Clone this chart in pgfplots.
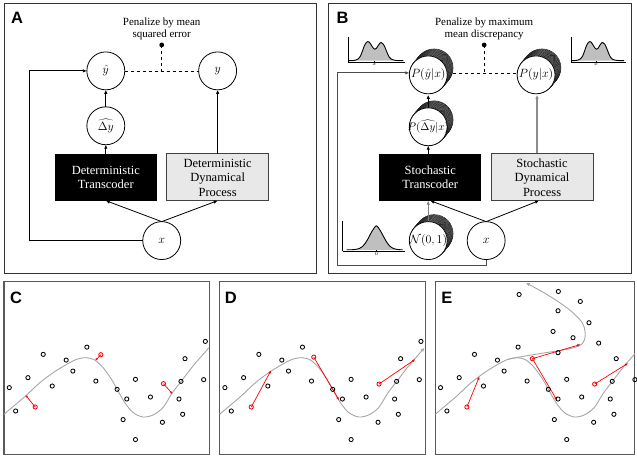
\documentclass[border=0pt]{standalone}
\usepackage{pgfplots}
\usepackage{pgfplotstable}
\pgfplotsset{compat=1.18}
\usepackage{fontspec}
\setmainfont{Liberation Serif}
\newfontfamily\labelfont{Liberation Sans}
\usetikzlibrary{arrows.meta}

% observed samples shared by the three scatter panels
\pgfplotstableread{
x y
5.3 66.7
11.7 43.3
24.0 76.7
39.3 100.0
48.3 68.3
62.3 94.3
69.0 83.3
83.0 107.3
92.0 73.3
113.3 65.0
123.0 55.3
131.7 75.0
119.3 34.7
131.7 14.7
146.7 57.3
158.7 32.0
175.3 55.3
177.3 73.0
181.3 95.7
179.0 40.0
200.0 74.7
201.7 113.0
}\basepts

% additional samples of the multimodal process
\pgfplotstableread{
x y
84.0 160.0
123.3 163.0
145.3 153.0
123.0 143.7
154.0 131.7
118.0 123.0
138.0 116.7
163.7 111.3
123.0 101.7
}\extrapts

% learned transcoder curve
\pgfplotstableread{
x y
0 40
11 49.3
22 58.7
36 71.7
49.3 81.7
62.7 90
72.7 95
82 96.7
91 94.3
99.3 86.7
107.7 75
114.3 63.3
121 51.7
129.3 41.7
139.3 37.3
149.3 39.3
159.3 46.7
168.3 61
177.7 73.3
189.3 88.3
205.3 106.7
}\curve

% upper branch of the stochastic transcoder
\pgfplotstableread{
x y
72.7 95
84 97.3
94 99
110.7 101.7
127.3 104.3
140.7 107.3
147.3 110.7
150 116.7
150 123.3
147.3 131.7
137.3 142.3
124 152.3
107.3 162.7
90.7 171.7
}\branch

% bimodal conditional density
\pgfplotstableread{
x y
0 1.5
4 1.6
7 2
10 3.5
12 6
14 11
16 16.5
18 19.8
19.5 20.6
21 20
23 17
25 14
26.5 13
28 13.8
30 17
32 19.5
33 19.6
35 18
37 14
39 9
41 5
43 3
46 2
50 1.6
55 1.5
}\bimodal

% standard normal noise density
\pgfplotstableread{
x y
4 1.5
7.7 1.5
10.7 1.6
13.7 2.0
16.7 2.8
19.7 4.7
22.7 8.2
25.7 13.2
28.7 18.9
31.7 23.65
33.7 25.5
35.7 23.65
38.7 18.9
41.7 13.2
44.7 8.2
47.7 4.7
50.7 2.8
53.7 2.0
56.7 1.6
60 1.5
}\normal

\pgfplotsset{
  panel/.style={scale only axis, anchor=south west, xmin=0, ymin=0, ymax=173,
    height=173pt, xtick=\empty, ytick=\empty,
    axis line style={black!65, line width=1.1pt}},
  pts/.style={only marks, mark=o, mark size=2.1pt, black, mark options={line width=0.85pt}},
  redpt/.style={only marks, mark=o, mark size=2.1pt, red, mark options={line width=0.85pt}},
  fit/.style={smooth, black!35, line width=0.9pt, no marks},
  shift/.style={red, line width=0.7pt, no marks, -{Latex[length=3.5pt,width=2.6pt]}},
  resid/.style={red, line width=0.7pt, no marks, -{Circle[length=2.2pt]}},
  dens/.style={scale only axis, anchor=south west, axis lines*=left,
    axis line style={black, line width=0.8pt}, ytick=\empty,
    major tick length=1.5pt, tick style={black, line width=0.4pt},
    xticklabel style={font=\fontsize{3.5}{3.5}\selectfont, inner sep=0.5pt}},
  densline/.style={black, line width=0.9pt, fill=black!25, no marks, smooth},
}

% a circle drawn as the front of a stack of samples
\newcommand{\stackcirc}[3]{%
  \foreach \k in {14,13,...,1}{%
    \draw[black, line width=0.45pt, fill=white] ({#1+0.42*\k},{#2-0.5*\k}) circle (19pt);}
  \draw[black, line width=0.8pt, fill=white] (#1,#2) circle (19pt);
  \node[font=\fontsize{12.5}{12.5}\selectfont] at (#1,#2) {#3};
}

\begin{document}
\begin{tikzpicture}
\begin{scope}[x=1pt, y=-1pt, >={Latex[length=4pt,width=3.5pt]}]
\path[use as bounding box] (0,0) rectangle (637,460);

% ---------------- panel A: deterministic model ----------------
\draw[black!80, line width=0.9pt] (4,3) rectangle (317,274);
\node[anchor=base west, inner sep=0, font=\labelfont\bfseries\fontsize{16.5}{16.5}\selectfont] at (11,24) {A};
\node[align=center, font=\fontsize{11}{12}\selectfont] at (162,29) {Penalize by mean\\squared error};
\fill (162,45) circle (2.4pt);
\draw[dashed, line width=0.7pt] (162,45) -- (162,71);
\draw[dashed, line width=0.7pt] (125,71) -- (199,71);
\foreach \cx/\cy/\lab in {106/71/{$\hat{y}$}, 218/71/{$y$}, 106/126/{$\widehat{\Delta y}$}, 162/241/{$x$}}{
  \draw[line width=0.8pt] (\cx,\cy) circle (19pt);
  \node[font=\fontsize{12.5}{12.5}\selectfont] at (\cx,\cy) {\lab};
}
\fill[black] (55,154) rectangle (157,201);
\node[text=white, align=center, font=\fontsize{12.5}{14.5}\selectfont] at (106,177.5) {Deterministic\\Transcoder};
\draw[black!75, fill=black!9, line width=0.9pt] (167,154) rectangle (269,201);
\node[align=center, font=\fontsize{12.5}{14.5}\selectfont] at (218,178) {Deterministic\\Dynamical\\Process};
\draw[->, line width=0.8pt] (106,107) -- (106,90);
\draw[->, line width=0.8pt] (106,154) -- (106,145);
\draw[->, line width=0.8pt] (218,154) -- (218,90);
\draw[->, line width=0.8pt] (162,222) -- (106,201);
\draw[->, line width=0.8pt] (162,222) -- (218,201);
\draw[->, line width=0.8pt] (143,241) -- (29,241) -- (29,71) -- (87,71);

% ---------------- panel B: stochastic model ----------------
\draw[black!80, line width=0.9pt] (329,3) rectangle (633,274);
\node[anchor=base west, inner sep=0, font=\labelfont\bfseries\fontsize{16.5}{16.5}\selectfont] at (337,24) {B};
\node[align=center, font=\fontsize{11}{12}\selectfont] at (485,29) {Penalize by maximum\\mean discrepancy};
\fill (485,45) circle (2.4pt);
\draw[dashed, line width=0.7pt] (485,45) -- (485,73);
\draw[dashed, line width=0.7pt] (448,73) -- (518,73);
\draw[black!70, line width=0.9pt] (487,260) -- (487,266) -- (338,266) -- (338,73);
\draw[->, black!70, line width=0.9pt] (338,73) -- (410,73);
\draw[->, black!45, line width=1.6pt] (538,154) -- (538,95);
\stackcirc{429}{75}{$P(\hat{y}|x)$}
\stackcirc{537}{75}{$P(y|x)$}
\stackcirc{429}{127}{\fontsize{11}{11}\selectfont$P(\widehat{\Delta y}|x)$}
\draw[->, line width=0.8pt] (429,108) -- (429,95);
\fill[black] (380,154) rectangle (482,201);
\node[text=white, align=center, font=\fontsize{12.5}{14.5}\selectfont] at (431,177.5) {Stochastic\\Transcoder};
\draw[black!75, fill=black!9, line width=0.9pt] (492,154) rectangle (594,201);
\node[align=center, font=\fontsize{12.5}{14.5}\selectfont] at (543,178) {Stochastic\\Dynamical\\Process};
\draw[->, line width=0.8pt] (429,154) -- (429,146);
\stackcirc{429}{241}{\fontsize{12}{12}\selectfont$\mathcal{N}(0,1)$}
\draw[line width=0.8pt] (487,241) circle (19pt);
\node[font=\fontsize{12.5}{12.5}\selectfont] at (487,241) {$x$};
\draw[->, black!50, line width=1.4pt] (429,221) -- (429,201);
\draw[->, line width=0.8pt] (487,222) -- (431,201);
\draw[->, line width=0.8pt] (487,222) -- (540,201);
\end{scope}

% small density sketches in panel B
\begin{axis}[dens, at={(349pt,-62.3pt)}, width=57pt, height=25pt,
  xmin=0, xmax=57, ymin=0, ymax=25, xtick={26}, xticklabels={$x$}]
  \addplot[densline] table {\bimodal};
\end{axis}
\begin{axis}[dens, at={(572pt,-62.3pt)}, width=55pt, height=25pt,
  xmin=0, xmax=57, ymin=0, ymax=25, xtick={26}, xticklabels={$x$}]
  \addplot[densline] table {\bimodal};
\end{axis}
\begin{axis}[dens, at={(343.3pt,-251.7pt)}, width=62.7pt, height=30pt,
  xmin=0, xmax=62.7, ymin=0, ymax=30, xtick={33.7}, xticklabels={$0$}]
  \addplot[densline] table {\normal};
\end{axis}

% ---------------- panel C: residuals of a deterministic fit ----------------
\begin{axis}[panel, at={(4pt,-455pt)}, width=206pt, xmax=206]
  \addplot[fit] table {\curve};
  \addplot[resid] coordinates {(31.3,47.3) (22,58.7)};
  \addplot[resid] coordinates {(97,99.7) (92,94.3)};
  \addplot[resid] coordinates {(159.7,70.7) (168.3,61)};
  \addplot[pts] table {\basepts};
  \addplot[redpt] coordinates {(31.3,47.3) (97,99.7) (159.7,70.7)};
\end{axis}

% ---------------- panel D: single-valued transport ----------------
\begin{axis}[panel, at={(220pt,-455pt)}, width=206pt, xmax=206]
  \addplot[fit, -{Latex[length=4pt,width=3.5pt]}] table {\curve};
  \addplot[shift] coordinates {(31.7,47.3) (51.7,84.3)};
  \addplot[shift] coordinates {(94.3,97.3) (119.7,54)};
  \addplot[shift] coordinates {(159.7,70.3) (196.3,95.3)};
  \addplot[pts] table {\basepts};
  \addplot[redpt] coordinates {(31.7,47.3) (94.3,97.3) (159.7,70.3)};
\end{axis}

% ---------------- panel E: multi-valued transport ----------------
\begin{axis}[panel, at={(436pt,-455pt)}, width=200pt, xmax=200]
  \addplot[fit] table {\curve};
  \addplot[fit, -{Latex[length=4pt,width=3.5pt]}] table {\branch};
  \addplot[shift] coordinates {(31.7,47.3) (44.3,78)};
  \addplot[shift] coordinates {(97.3,95.7) (145.7,110)};
  \addplot[shift] coordinates {(97.3,95.7) (122,54)};
  \addplot[shift] coordinates {(159.7,70.3) (193.3,91.3)};
  \addplot[pts] table {\basepts};
  \addplot[pts] table {\extrapts};
  \addplot[redpt] coordinates {(31.7,47.3) (97.3,95.7) (159.7,70.3)};
\end{axis}

\begin{scope}[x=1pt, y=-1pt]
\foreach \lx/\lab in {10/C, 225/D, 442/E}{
  \node[anchor=base west, inner sep=0, font=\labelfont\bfseries\fontsize{16.5}{16.5}\selectfont] at (\lx,304) {\lab};
}
\end{scope}
\end{tikzpicture}
\end{document}
